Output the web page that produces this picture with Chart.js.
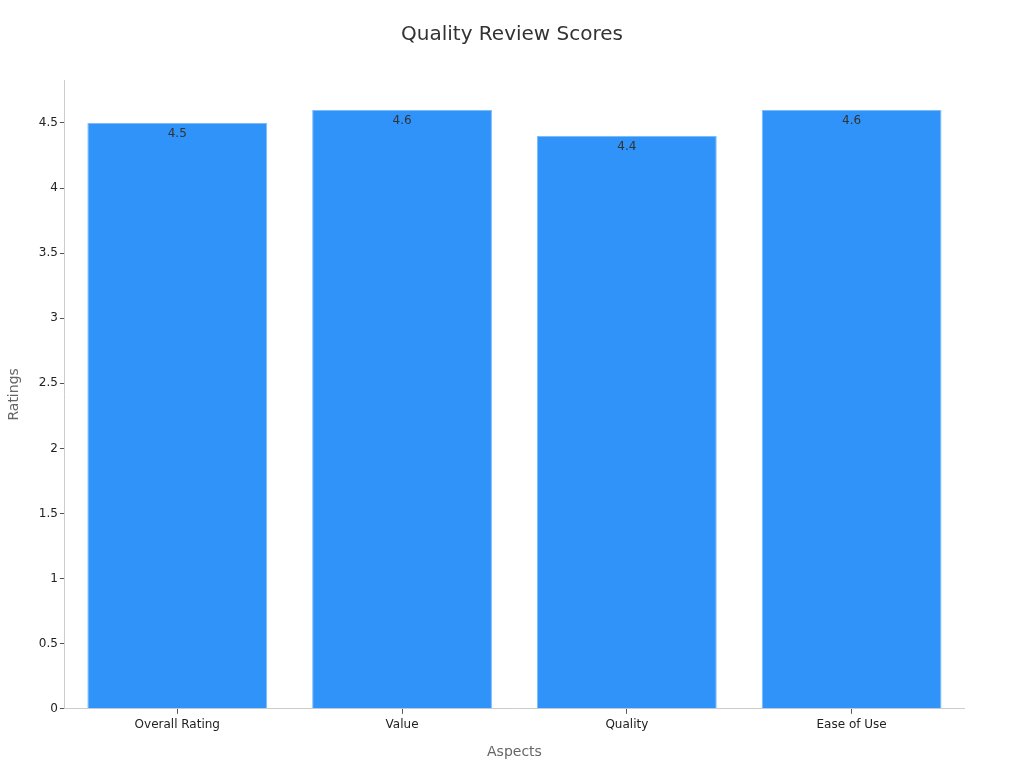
<!DOCTYPE html>
<html>
<head>
<meta charset="utf-8">
<script src="https://cdn.jsdelivr.net/npm/chart.js@4.4.0/dist/chart.umd.min.js"></script>
<style>
  html, body { margin: 0; padding: 0; background: #fff; }
  #wrap { width: 1024px; height: 768px; }
</style>
</head>
<body>
<div id="wrap"><canvas id="chart"></canvas></div>
<script>
const categories = ["Overall Rating", "Value", "Quality", "Ease of Use"];
const ratings = [4.5, 4.6, 4.4, 4.6];
const yTicks = [0, 0.5, 1, 1.5, 2, 2.5, 3, 3.5, 4, 4.5];
const chartTitle = "Quality Review Scores";

// draw the value text just inside the top of each bar
const valueLabels = {
  id: "valueLabels",
  afterDatasetsDraw(chart) {
    const ctx = chart.ctx;
    const meta = chart.getDatasetMeta(0);
    ctx.save();
    ctx.font = "12px 'DejaVu Sans'";
    ctx.fillStyle = "#333333";
    ctx.textAlign = "center";
    ctx.textBaseline = "top";
    meta.data.forEach((bar, i) => {
      ctx.fillText(String(ratings[i]), bar.x, bar.y + 5);
    });
    ctx.restore();
  },
};

// title centred on the whole canvas, not on the padded area
const centredTitle = {
  id: "centredTitle",
  afterDraw(chart) {
    const ctx = chart.ctx;
    ctx.save();
    ctx.font = "20px 'DejaVu Sans'";
    ctx.fillStyle = "#333333";
    ctx.textAlign = "center";
    ctx.textBaseline = "middle";
    ctx.fillText(chartTitle, chart.width / 2, 35);
    ctx.restore();
  },
};

Chart.defaults.font.family = "'DejaVu Sans', sans-serif";

new Chart(document.getElementById("chart"), {
  type: "bar",
  data: {
    labels: categories,
    datasets: [
      {
        data: ratings,
        backgroundColor: "#2f93fa",
        borderColor: "#7cbcfa",
        borderWidth: 1,
        barPercentage: 0.8,
        categoryPercentage: 1.0,
      },
    ],
  },
  options: {
    responsive: true,
    maintainAspectRatio: false,
    animation: false,
    layout: { padding: { left: 2, right: 60, top: 80, bottom: 3 } },
    plugins: {
      legend: { display: false },
      tooltip: { enabled: false },
      title: { display: false },
    },
    scales: {
      x: {
        grid: { display: true, offset: false, drawOnChartArea: false, drawTicks: true, tickLength: 5, color: "#555" },
        border: { display: true, color: "#cccccc" },
        ticks: { color: "#222222", font: { size: 12 }, padding: 4 },
        title: {
          display: true,
          text: "Aspects",
          color: "#666666",
          font: { size: 14 },
          padding: { top: 8 },
        },
      },
      y: {
        min: 0,
        max: 4.83,
        afterBuildTicks(axis) {
          axis.ticks = yTicks.map((v) => ({ value: v }));
        },
        grid: { display: true, drawOnChartArea: false, drawTicks: true, tickLength: 5, color: "#555" },
        border: { display: true, color: "#cccccc" },
        ticks: {
          color: "#222222",
          font: { size: 12 },
          padding: 2,
          callback: (v) => String(v),
        },
        title: {
          display: true,
          text: "Ratings",
          color: "#666666",
          font: { size: 14 },
          padding: { bottom: 14 },
        },
      },
    },
  },
  plugins: [valueLabels, centredTitle],
});
</script>
</body>
</html>
